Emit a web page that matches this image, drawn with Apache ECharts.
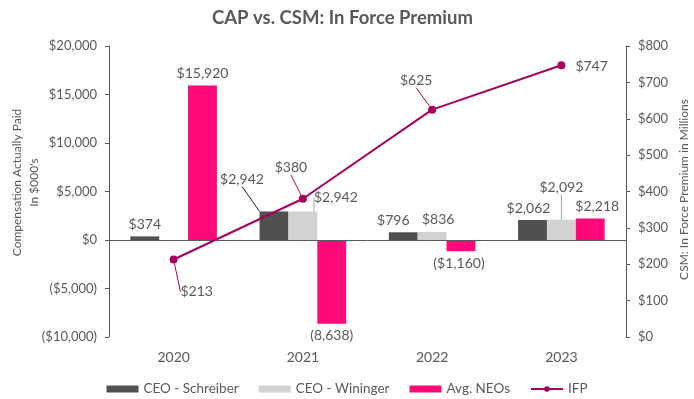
<!DOCTYPE html>
<html>
<head>
<meta charset="utf-8">
<script src="https://cdn.jsdelivr.net/npm/echarts@6/dist/echarts.min.js"></script>
<style>
html,body{margin:0;padding:0;background:#fff;}
#chart{width:694px;height:399px;}
</style>
</head>
<body>
<div id="chart"></div>
<script>
const years = ['2020', '2021', '2022', '2023'];
const ceoSchreiber = [374, 2942, 796, 2062];
const ceoWininger = [null, 2942, 836, 2092];
const avgNEOs = [15920, -8638, -1160, 2218];
const avgNEOsLabels = ['$15,920', '(8,638)', '($1,160)', '$2,218'];
const ifp = [213, 380, 625, 747];
const leftTicks = { min: -10000, max: 20000, interval: 5000 };
const rightTicks = { min: 0, max: 800, interval: 100 };

const FONT = 'Lato';
const TXT = '#595959';
const COLORS = { dark: '#505050', light: '#d2d2d2', pink: '#ff0a78', line: '#a8005a' };

function money(v) {
  const s = Math.abs(v).toLocaleString('en-US');
  return v < 0 ? '($' + s + ')' : '$' + s;
}

// label nudges (labelLayout dx/dy) and which labels get a leader line
const schMoves = { 2: { dx: -10, dy: 0 }, 3: { dx: -4, dy: 0 }, 1: { dx: -32, dy: -20 } };
const schLines = [false, true, false, false];
const winMoves = { 1: { dx: 33, dy: -2 }, 2: { dx: 6, dy: 0 }, 3: { dx: 0, dy: -20 } };
const winLines = [false, true, false, true];
const neoMoves = { 2: { dx: -2, dy: 0 }, 3: { dx: 7, dy: 0 } };
const ifpMoves = { 0: { dx: 23, dy: 16 }, 1: { dx: -12, dy: -15 }, 2: { dx: -16, dy: -13 }, 3: { dx: 5, dy: 1 } };
const ifpLines = [true, true, true, false];
const ifpPos = ['bottom', 'top', 'top', 'right'];

const labelBase = { show: true, color: TXT, fontSize: 14, fontFamily: FONT, distance: 5 };

const chart = echarts.init(document.getElementById('chart'));
chart.setOption({
  animation: false,
  textStyle: { fontFamily: FONT },
  title: {
    text: 'CAP vs. CSM: In Force Premium',
    left: 207, top: 4,
    textStyle: { fontSize: 18.5, fontWeight: 'bold', color: TXT, fontFamily: FONT }
  },
  grid: { left: 109, right: 68, top: 46, bottom: 62, containLabel: false, outerBoundsMode: 'none' },
  legend: {
    bottom: -2, left: 'center',
    itemWidth: 32, itemHeight: 7, itemGap: 20,
    textStyle: { color: TXT, fontSize: 13.5, fontFamily: FONT },
    data: [
      { name: 'CEO - Schreiber', icon: 'rect' },
      { name: 'CEO - Wininger', icon: 'rect' },
      { name: 'Avg. NEOs', icon: 'rect' },
      { name: 'IFP' }
    ]
  },
  xAxis: {
    type: 'category', data: years,
    axisLine: { show: false }, axisTick: { show: false },
    axisLabel: { color: TXT, fontSize: 14, fontFamily: FONT, margin: 13 }
  },
  yAxis: [
    {
      type: 'value', min: leftTicks.min, max: leftTicks.max, interval: leftTicks.interval,
      name: "Compensation Actually Paid\nIn $000's", nameLocation: 'middle', nameGap: 66,
      nameMoveOverlap: false,
      nameTextStyle: { color: TXT, fontSize: 12, fontFamily: FONT, lineHeight: 17, padding: [0, 0, 0, 18] },
      axisLine: { show: true, lineStyle: { color: '#595959' } },
      axisTick: { show: true, length: 4, lineStyle: { color: '#595959' } },
      splitLine: { show: false },
      axisLabel: { color: TXT, fontSize: 13, fontFamily: FONT, margin: 12, formatter: money }
    },
    {
      type: 'value', min: rightTicks.min, max: rightTicks.max, interval: rightTicks.interval,
      name: 'CSM: In Force Premium in Millions', nameLocation: 'middle', nameGap: 52,
      nameMoveOverlap: false,
      nameTextStyle: { color: TXT, fontSize: 12, fontFamily: FONT, padding: [0, 0, 0, 4] },
      axisLine: { show: true, lineStyle: { color: '#595959' } },
      axisTick: { show: true, length: 4, lineStyle: { color: '#595959' } },
      splitLine: { show: false },
      axisLabel: { color: TXT, fontSize: 13, fontFamily: FONT, margin: 12, formatter: money }
    }
  ],
  series: [
    {
      name: 'CEO - Schreiber', type: 'bar', barGap: '0%', barCategoryGap: '33%',
      itemStyle: { color: COLORS.dark },
      data: ceoSchreiber.map((v, i) => ({ value: v, labelLine: { show: schLines[i] } })),
      label: Object.assign({}, labelBase, { position: 'top', formatter: p => money(p.value) }),
      labelLayout: p => schMoves[p.dataIndex] || null,
      labelLine: { show: true, lineStyle: { color: '#222', width: 1 } },
      markLine: {
        silent: true, symbol: 'none', label: { show: false },
        lineStyle: { color: '#595959', type: 'solid', width: 1 },
        data: [{ yAxis: 0 }]
      }
    },
    {
      name: 'CEO - Wininger', type: 'bar', barGap: '0%', barCategoryGap: '33%',
      itemStyle: { color: COLORS.light },
      data: ceoWininger.map((v, i) => ({ value: v, labelLine: { show: winLines[i] } })),
      label: Object.assign({}, labelBase, { position: 'top', formatter: p => money(p.value) }),
      labelLayout: p => winMoves[p.dataIndex] || null,
      labelLine: { show: true, lineStyle: { color: '#a6a6a6', width: 1 } }
    },
    {
      name: 'Avg. NEOs', type: 'bar', barGap: '0%', barCategoryGap: '33%',
      itemStyle: { color: COLORS.pink },
      data: avgNEOs.map((v, i) => ({
        value: v,
        label: { position: v < 0 ? 'bottom' : 'top' },
        labelLine: { show: false }
      })),
      label: Object.assign({}, labelBase, { formatter: p => avgNEOsLabels[p.dataIndex] }),
      labelLayout: p => neoMoves[p.dataIndex] || null
    },
    {
      name: 'IFP', type: 'line', yAxisIndex: 1, z: 5,
      symbol: 'circle', symbolSize: 8,
      lineStyle: { color: COLORS.line, width: 2 },
      itemStyle: { color: COLORS.line },
      data: ifp.map((v, i) => ({
        value: v, label: { position: ifpPos[i] }, labelLine: { show: ifpLines[i] }
      })),
      label: Object.assign({}, labelBase, { formatter: p => money(p.value) }),
      labelLayout: p => ifpMoves[p.dataIndex] || null,
      labelLine: { show: true, lineStyle: { color: COLORS.line, width: 1 } }
    }
  ]
});
</script>
</body>
</html>
